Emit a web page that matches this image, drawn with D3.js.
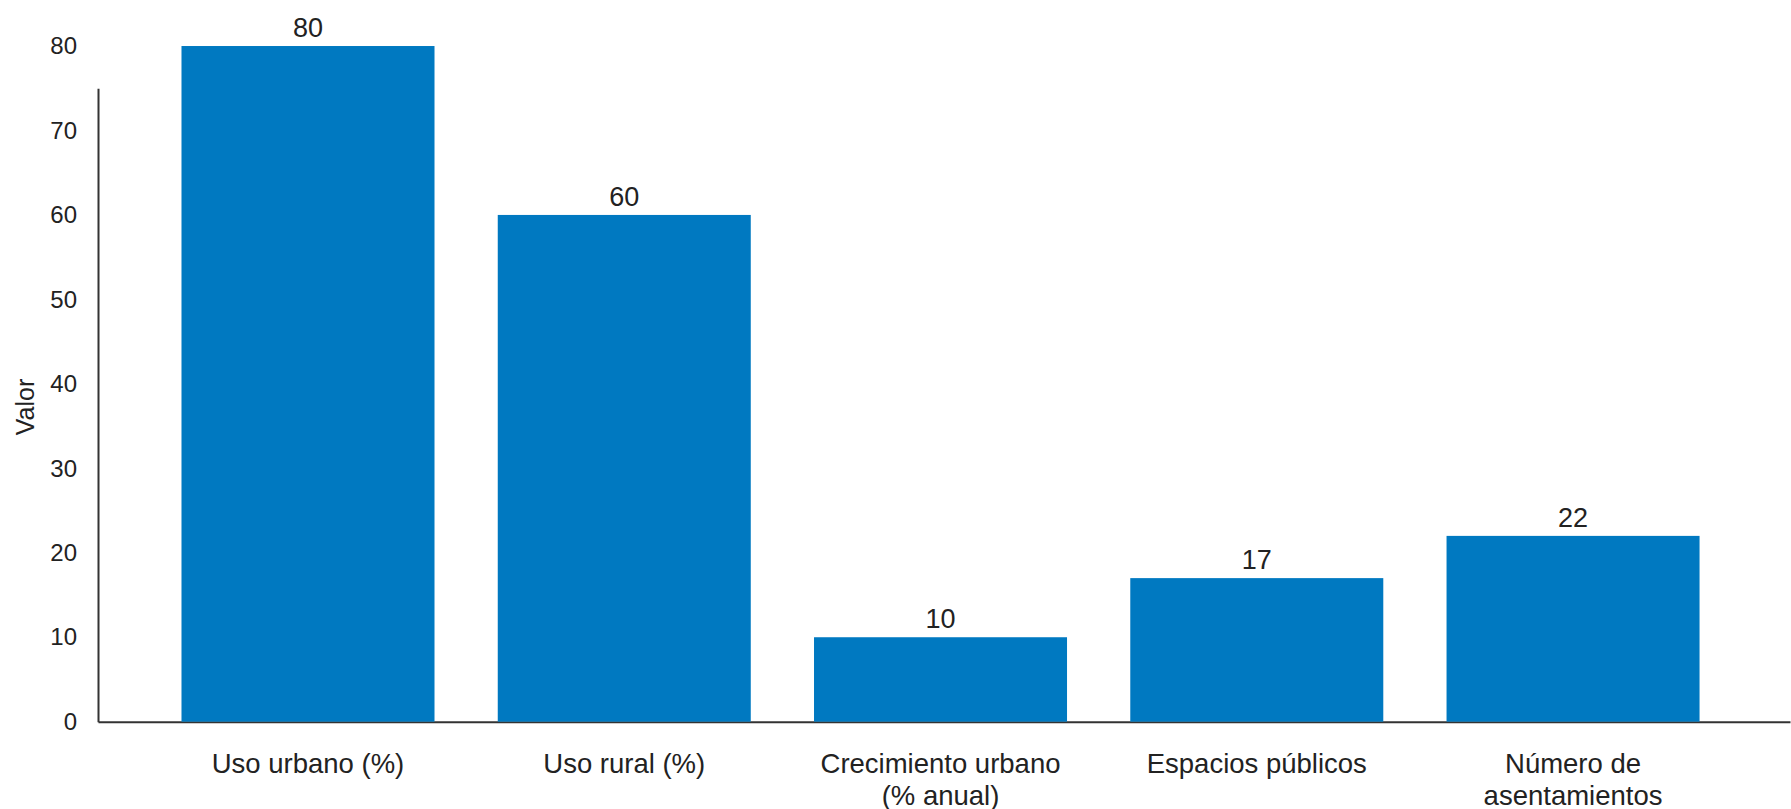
<!DOCTYPE html>
<html>
<head>
<meta charset="utf-8">
<script src="https://cdn.jsdelivr.net/npm/d3@7"></script>
<style>
  html, body { margin: 0; padding: 0; background: #fff; }
  svg { display: block; }
  text { font-family: "Liberation Sans", Arial, Helvetica, sans-serif; fill: #222; }
</style>
</head>
<body>
<svg id="chart" width="1791" height="809"></svg>
<script>
// ---- data ----
const categories = [
  ["Uso urbano (%)"],
  ["Uso rural (%)"],
  ["Crecimiento urbano", "(% anual)"],
  ["Espacios públicos"],
  ["Número de", "asentamientos"]
];
const values = [80, 60, 10, 17, 22];
const yTicks = [0, 10, 20, 30, 40, 50, 60, 70, 80];
const yAxisTitle = "Valor";
const yAxisLineTop = 75; // value at which the drawn y-axis line stops

// ---- layout ----
const W = 1791, H = 809;
const left = 98, right = 1790, baseY = 721.7, pxPer10 = 84.46;
const svg = d3.select("#chart");

const x = d3.scaleBand()
  .domain(d3.range(values.length))
  .range([left, right])
  .paddingInner(0.2)
  .paddingOuter(0.275)
  .align(0.48);

const y = d3.scaleLinear()
  .domain([0, 80])
  .range([baseY, baseY - pxPer10 * 8]);

// x axis line
const xAxis = d3.axisBottom(x).tickSize(0).tickFormat("");
const gx = svg.append("g").attr("transform", `translate(0,${y(0)})`).call(xAxis);
gx.select(".domain").attr("stroke", "#333").attr("stroke-width", 2);

// y axis line
const yAxisScale = y.copy().domain([0, yAxisLineTop]).range([y(0), y(yAxisLineTop)]);
const gyLine = svg.append("g").attr("transform", `translate(${left},0)`)
  .call(d3.axisLeft(yAxisScale).tickValues([]).tickSize(0));
gyLine.select(".domain").attr("stroke", "#333").attr("stroke-width", 2);

// y tick labels
const gy = svg.append("g").attr("transform", `translate(${left},0)`)
  .call(d3.axisLeft(y).tickValues(yTicks).tickSize(0).tickPadding(21));
gy.select(".domain").remove();
gy.selectAll(".tick text")
  .attr("font-size", 24)
  .attr("font-family", "Liberation Sans, Arial, sans-serif")
  .attr("fill", "#222");

// y title
svg.append("text")
  .attr("transform", `translate(25,407) rotate(-90)`)
  .attr("text-anchor", "middle")
  .attr("dominant-baseline", "central")
  .attr("font-size", 25)
  .text(yAxisTitle);

// bars
svg.append("g").selectAll("rect")
  .data(values)
  .join("rect")
  .attr("x", (d, i) => x(i))
  .attr("width", x.bandwidth())
  .attr("y", d => y(d))
  .attr("height", d => y(0) - y(d))
  .attr("fill", "#0079C1");

// value labels
svg.append("g").selectAll("text")
  .data(values)
  .join("text")
  .attr("x", (d, i) => x(i) + x.bandwidth() / 2)
  .attr("y", d => y(d) - 9)
  .attr("text-anchor", "middle")
  .attr("font-size", 27)
  .text(d => d);

// category labels
const cat = svg.append("g").selectAll("text")
  .data(categories)
  .join("text")
  .attr("x", (d, i) => x(i) + x.bandwidth() / 2)
  .attr("y", y(0) + 51)
  .attr("text-anchor", "middle")
  .attr("font-size", 27.5);
cat.selectAll("tspan")
  .data(d => d)
  .join("tspan")
  .attr("x", function() { return d3.select(this.parentNode).attr("x"); })
  .attr("dy", (d, i) => i === 0 ? 0 : 32)
  .text(d => d);
</script>
</body>
</html>
